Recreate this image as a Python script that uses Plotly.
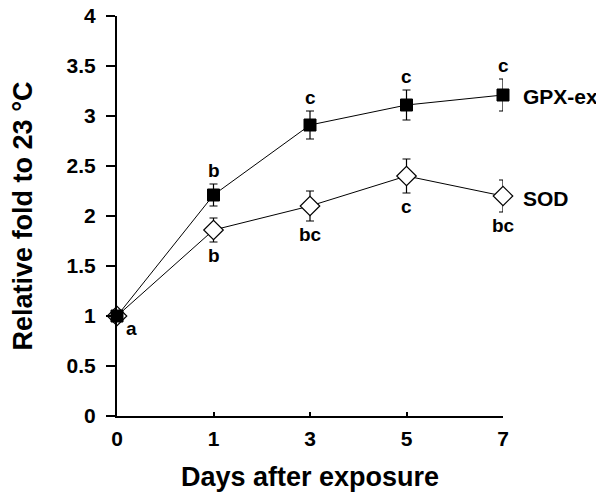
import plotly.graph_objects as go

days = ["0", "1", "3", "5", "7"]
gpx = [1.0, 2.21, 2.91, 3.11, 3.21]
gpx_err = [0.0, 0.11, 0.14, 0.15, 0.16]
sod = [1.0, 1.86, 2.10, 2.40, 2.20]
sod_err = [0.0, 0.12, 0.15, 0.17, 0.16]
gpx_letters = ["", "b", "c", "c", "c"]
sod_letters = ["", "b", "bc", "c", "bc"]
xi = list(range(len(days)))

FONT = "Liberation Sans, Arial, sans-serif"


def f(size):
    return dict(size=size, family=FONT, color="black", weight="bold")


fig = go.Figure()
fig.add_trace(go.Scatter(
    x=xi, y=sod, mode="lines+markers", name="SOD",
    line=dict(color="black", width=1),
    marker=dict(symbol="diamond", size=15, color="white", line=dict(color="black", width=1.2)),
    error_y=dict(type="data", array=sod_err, color="black", thickness=1.2, width=4),
    cliponaxis=False,
))
fig.add_trace(go.Scatter(
    x=xi, y=gpx, mode="lines+markers", name="GPX-ex",
    line=dict(color="black", width=1),
    marker=dict(symbol="square", size=12, color="black", line=dict(color="black", width=1)),
    error_y=dict(type="data", array=gpx_err, color="black", thickness=1.2, width=4),
    cliponaxis=False,
))

ann = []
for i, (v, e, t) in enumerate(zip(gpx, gpx_err, gpx_letters)):
    if t:
        ann.append(dict(x=i, y=v + e, text=t, showarrow=False, yanchor="bottom", yshift=1, font=f(19)))
for i, (v, e, t) in enumerate(zip(sod, sod_err, sod_letters)):
    if t:
        ann.append(dict(x=i, y=v - e, text=t, showarrow=False, yanchor="top", yshift=-1, font=f(19)))
ann.append(dict(x=0, y=gpx[0], text="a", showarrow=False, xanchor="left", yanchor="middle",
                xshift=7, yshift=-12, font=f(19)))
ann.append(dict(x=xi[-1], y=gpx[-1], text="GPX-ex", showarrow=False, xanchor="left", yanchor="middle",
                xshift=18, yshift=-1, font=f(21)))
ann.append(dict(x=xi[-1], y=sod[-1], text="SOD", showarrow=False, xanchor="left", yanchor="middle",
                xshift=18, yshift=-2, font=f(21)))

fig.update_layout(
    width=596, height=484,
    margin=dict(l=109, r=101, t=8, b=76),
    paper_bgcolor="white", plot_bgcolor="white",
    showlegend=False,
    font=f(21),
    annotations=ann,
    xaxis=dict(
        range=[0, 4], tickmode="array", tickvals=xi, ticktext=days, automargin=False,
        showgrid=False, zeroline=False, showline=True, linecolor="black", linewidth=2,
        ticks="inside", ticklen=4, tickwidth=1.5, tickcolor="black",
        tickfont=f(21), ticklabelstandoff=3, ticklabeloverflow="allow",
        title=dict(text="Days after exposure", font=f(27), standoff=18),
    ),
    yaxis=dict(
        range=[0, 4], dtick=0.5, tick0=0, automargin=False,
        showgrid=False, zeroline=False, showline=True, linecolor="black", linewidth=2,
        ticks="outside", ticklen=9, tickwidth=2, tickcolor="black",
        tickfont=f(21), ticklabelstandoff=6, ticklabeloverflow="allow",
        title=dict(text="Relative fold to 23 °C", font=f(27), standoff=37),
    ),
)

fig.write_html("out.html")
